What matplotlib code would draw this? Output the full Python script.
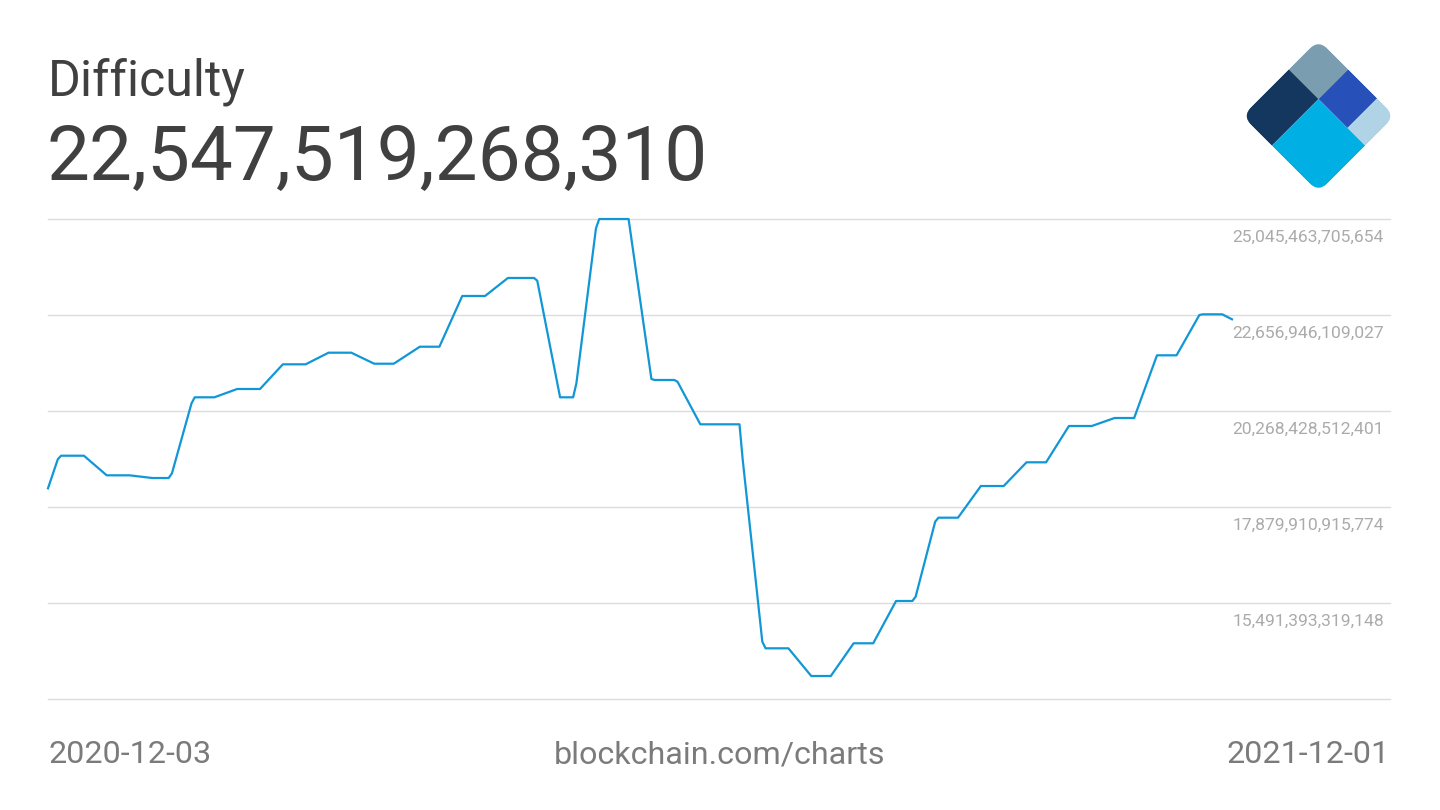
import numpy as np
import pandas as pd
import matplotlib
matplotlib.use("Agg")
from matplotlib import pyplot as plt
from matplotlib.patches import Rectangle, FancyBboxPatch
from matplotlib.transforms import Affine2D, blended_transform_factory

# difficulty (7 day avg), read at the corners of the line
dates = ["2020-12-03", "2020-12-06", "2020-12-07", "2020-12-14", "2020-12-21", "2020-12-28",
         "2021-01-04", "2021-01-09", "2021-01-10", "2021-01-16", "2021-01-17", "2021-01-23",
         "2021-01-30", "2021-02-06", "2021-02-13", "2021-02-20", "2021-02-27", "2021-03-06",
         "2021-03-13", "2021-03-19", "2021-03-27", "2021-04-02", "2021-04-09", "2021-04-16",
         "2021-04-23", "2021-05-01", "2021-05-02", "2021-05-09", "2021-05-13", "2021-05-14",
         "2021-05-20", "2021-05-21", "2021-05-30", "2021-06-06", "2021-06-07", "2021-06-13",
         "2021-06-14", "2021-06-21", "2021-07-03", "2021-07-04", "2021-07-10", "2021-07-11",
         "2021-07-18", "2021-07-25", "2021-07-31", "2021-08-07", "2021-08-13", "2021-08-20",
         "2021-08-25", "2021-08-26", "2021-09-01", "2021-09-02", "2021-09-08", "2021-09-15",
         "2021-09-22", "2021-09-29", "2021-10-05", "2021-10-12", "2021-10-19", "2021-10-26",
         "2021-11-01", "2021-11-08", "2021-11-14", "2021-11-21", "2021-11-22", "2021-11-28",
         "2021-12-01"]
difficulty = [18.345e12, 19.066e12, 19.156e12, 19.156e12, 18.668e12, 18.668e12,
              18.601e12, 18.601e12, 18.718e12, 20.460e12, 20.609e12, 20.609e12,
              20.816e12, 20.816e12, 21.430e12, 21.430e12, 21.719e12, 21.719e12,
              21.445e12, 21.445e12, 21.868e12, 21.868e12, 23.130e12, 23.130e12,
              23.578e12, 23.578e12, 23.510e12, 20.609e12, 20.609e12, 20.958e12,
              24.814e12, 25.045e12, 25.045e12, 21.065e12, 21.040e12, 21.040e12,
              20.997e12, 19.937e12, 19.937e12, 19.049e12, 14.528e12, 14.364e12,
              14.364e12, 13.675e12, 13.675e12, 14.489e12, 14.489e12, 15.541e12,
              15.541e12, 15.648e12, 17.514e12, 17.614e12, 17.614e12, 18.402e12,
              18.402e12, 18.992e12, 18.992e12, 19.895e12, 19.895e12, 20.094e12,
              20.094e12, 21.654e12, 21.654e12, 22.657e12, 22.674e12, 22.674e12,
              22.550e12]

grid_values = [25045463705654, 22656946109027, 20268428512401,
               17879910915774, 15491393319148, 13102875722522]
current = "22,547,519,268,310"
start_label = "2020-12-03"
end_label = "2021-12-01"

x = pd.to_datetime(dates)

plt.rcParams['font.family'] = ['Roboto', 'DejaVu Sans']

W, H = 1440, 810
fig = plt.figure(figsize=(W / 100, H / 100), dpi=100)
fig.patch.set_facecolor("white")

# main plot, px box 48..1390 x 219..699
ax = fig.add_axes([48 / W, 1 - 699 / H, (1390 - 48) / W, 480 / H])
ax.set_facecolor("none")
for s in ax.spines.values():
    s.set_visible(False)
ax.set_xticks([])
ax.set_yticks([])

t0 = pd.Timestamp(start_label)
px_per_day = (1232 - 48) / 363
ax.set_xlim(t0, t0 + pd.Timedelta(days=(1390 - 48) / px_per_day))
ax.set_ylim(grid_values[-1], grid_values[0])

for v in grid_values:
    ax.axhline(v, color="#dcdcdc", lw=1.0, zorder=1, clip_on=False)

ax.plot(x, difficulty, color="#1197d6", lw=1.6, zorder=3, clip_on=False,
        solid_joinstyle="round")

tr = blended_transform_factory(ax.transAxes, ax.transData)
for v in grid_values[:-1]:
    ax.annotate(f"{v:,}", xy=(1, v), xycoords=tr, xytext=(-4.3, -13.3),
                textcoords="offset points", ha="right", va="center",
                fontsize=12.6, color="#ababab")

# header text
fig.text(48 / W, 1 - 95 / H, "Difficulty", fontsize=36, color="#404040",
         ha="left", va="baseline")
fig.text(47 / W, 1 - 180 / H, current, fontsize=55, color="#404040",
         ha="left", va="baseline")

# footer text
fig.text(48 / W, 1 - 763 / H, start_label, fontsize=23.2, color="#7b7b7b",
         ha="left", va="baseline")
fig.text(720 / W, 1 - 763 / H, "blockchain.com/charts", fontsize=23.2, color="#7b7b7b",
         ha="center", va="baseline")
fig.text(1390 / W, 1 - 763 / H, end_label, fontsize=23.2, color="#7b7b7b",
         ha="right", va="baseline")

# logo: rotated square made of five blocks
lax = fig.add_axes([0, 0, 1, 1])
lax.set_xlim(0, W)
lax.set_ylim(H, 0)
lax.axis("off")
r = 1 / np.sqrt(2)
side = 108
rot = Affine2D(np.array([[r, -r, 1318.5], [r, r, 116 - side * r], [0, 0, 1]])) + lax.transData
clip = FancyBboxPatch((0, 0), side, side, boxstyle="round,pad=0,rounding_size=13",
                      transform=rot, facecolor="none", edgecolor="none")
lax.add_patch(clip)
blocks = [((0, 0), 42, 42, "#7b9db0"),
          ((0, 42), 42, side - 42, "#13375f"),
          ((42, 0), 41, 42, "#2751b9"),
          ((83, 0), side - 83, 42, "#b0d4e5"),
          ((42, 42), side - 42, side - 42, "#00afe3")]
for (a, b), wa, wb, c in blocks:
    p = Rectangle((a, b), wa, wb, transform=rot, facecolor=c, edgecolor="none")
    lax.add_patch(p)
    p.set_clip_path(clip)

fig.savefig("out.png", dpi=100, facecolor="white")
